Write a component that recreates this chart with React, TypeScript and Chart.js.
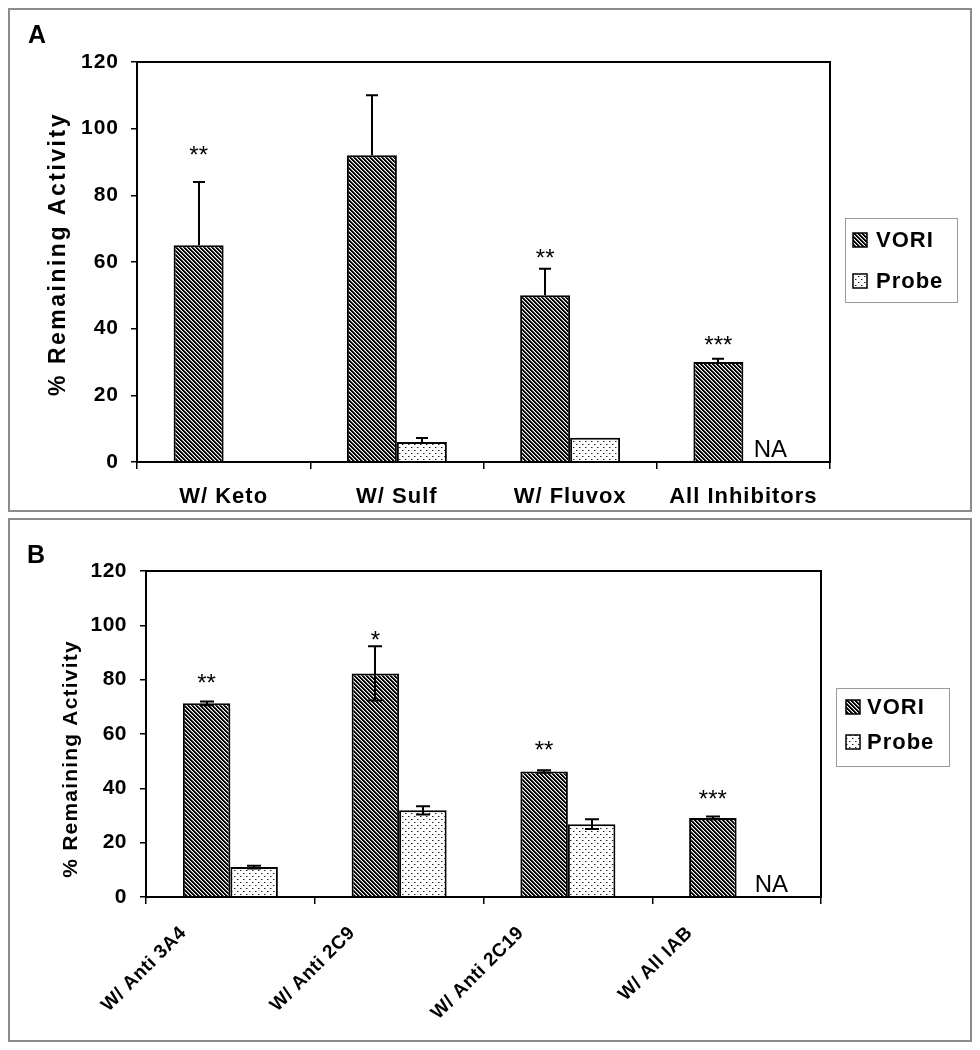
import React, { useEffect, useRef } from "react";
import { Chart, registerables } from "chart.js";

Chart.register(...registerables);

const FONT = 'Arial, "Liberation Sans", Helvetica, sans-serif';

// ---------- shared ----------
const seriesLabels = ["VORI", "Probe"];
const yTickValues = [0, 20, 40, 60, 80, 100, 120];
const yTitle = "% Remaining Activity";

// ---------- Panel A ----------
const categoriesA = ["W/ Keto", "W/ Sulf", "W/ Fluvox", "All Inhibitors"];
const voriA: (number | null)[] = [65, 92, 50, 30];
const voriErrA = [19, 18, 8, 1];
const probeA: (number | null)[] = [0, 6, 7.3, null];
const probeErrA = [0, 1.2, 0, 0];
const sigA = ["**", "", "**", "***"];
const sigValA: (number | null)[] = [94, null, 63, 37];
const naA = [false, false, false, true];

// ---------- Panel B ----------
const categoriesB = ["W/ Anti 3A4", "W/ Anti 2C9", "W/ Anti 2C19", "W/ All IAB"];
const voriB: (number | null)[] = [71.3, 82.3, 46.2, 29.1];
const voriErrB = [0.7, 10, 0.5, 0.5];
const probeB: (number | null)[] = [11, 31.9, 26.8, null];
const probeErrB = [0.5, 1.5, 1.8, 0];
const sigB = ["**", "*", "**", "***"];
const sigValB: (number | null)[] = [81, 96.7, 56.2, 38.2];
const naB = [false, false, false, true];

function makeHatch(): CanvasPattern {
  const c = document.createElement("canvas");
  c.width = 4;
  c.height = 4;
  const g = c.getContext("2d")!;
  g.fillStyle = "#fff";
  g.fillRect(0, 0, 4, 4);
  for (let y = 0; y < 4; y++)
    for (let x = 0; x < 4; x++) {
      const d = (((x - y) % 4) + 4) % 4;
      if (d === 0 || d === 1) {
        g.fillStyle = "#000";
        g.fillRect(x, y, 1, 1);
      } else if (d === 2) {
        g.fillStyle = "#777";
        g.fillRect(x, y, 1, 1);
      }
    }
  return g.createPattern(c, "repeat")!;
}

function makeDots(): CanvasPattern {
  const c = document.createElement("canvas");
  c.width = 6;
  c.height = 6;
  const g = c.getContext("2d")!;
  g.fillStyle = "#fff";
  g.fillRect(0, 0, 6, 6);
  g.fillStyle = "#222";
  g.fillRect(1, 1, 1, 1);
  g.fillRect(4, 4, 1, 1);
  g.fillStyle = "#999";
  g.fillRect(2, 1, 1, 1);
  g.fillRect(5, 4, 1, 1);
  return g.createPattern(c, "repeat")!;
}

type Spec = {
  categories: string[];
  vori: (number | null)[];
  voriErr: number[];
  probe: (number | null)[];
  probeErr: number[];
  sig: string[];
  sigVal: (number | null)[];
  na: boolean[];
  letter: string;
  height: number;
  padTop: number;
  padRight: number;
  yWidth: number;
  xHeight: number;
  catPct: number;
  tickSize: number;
  xSize: number;
  ls: number;
  yPad: number;
  xPad: number;
  rotation: number;
  labelOffset: number;
  errBoth: boolean;
  cap: number;
  titleX: number;
  titleY: number;
  titleSize: number;
  titleLs: number;
  letterX: number;
  letterY: number;
  legend: { x: number; y: number; w: number; h: number; sx: number; rows: number[]; tx: number };
  naDx: number;
};

const specA: Spec = {
  categories: categoriesA,
  vori: voriA,
  voriErr: voriErrA,
  probe: probeA,
  probeErr: probeErrA,
  sig: sigA,
  sigVal: sigValA,
  na: naA,
  letter: "A",
  height: 504,
  padTop: 54,
  padRight: 142,
  yWidth: 129,
  xHeight: 50,
  catPct: 0.577,
  tickSize: 21,
  xSize: 22,
  ls: 1,
  yPad: 12,
  xPad: 15,
  rotation: 0,
  labelOffset: 0,
  errBoth: false,
  cap: 12,
  titleX: 57,
  titleY: 246,
  titleSize: 23,
  titleLs: 2.5,
  letterX: 20,
  letterY: 35,
  legend: { x: 837, y: 210, w: 112, h: 84, sx: 845, rows: [232, 273], tx: 868 },
  naDx: 2,
};

const specB: Spec = {
  categories: categoriesB,
  vori: voriB,
  voriErr: voriErrB,
  probe: probeB,
  probeErr: probeErrB,
  sig: sigB,
  sigVal: sigValB,
  na: naB,
  letter: "B",
  height: 524,
  padTop: 53,
  padRight: 151,
  yWidth: 138,
  xHeight: 145,
  catPct: 0.563,
  tickSize: 21,
  xSize: 19,
  ls: 0.5,
  yPad: 13,
  xPad: 18,
  rotation: 45,
  labelOffset: -47,
  errBoth: true,
  cap: 14,
  titleX: 69,
  titleY: 241,
  titleSize: 21,
  titleLs: 1.2,
  letterX: 19,
  letterY: 45,
  legend: { x: 828, y: 170, w: 113, h: 78, sx: 838, rows: [189, 224], tx: 859 },
  naDx: 11,
};

function buildChart(canvas: HTMLCanvasElement, s: Spec) {
  const hatch = makeHatch();
  const dots = makeDots();
  const patterns = [hatch, dots];

  const decor = {
    id: "decor",
    beforeUpdate(chart: any) {
      chart.ctx.letterSpacing = s.ls + "px";
    },
    beforeDraw(chart: any) {
      chart.ctx.letterSpacing = s.ls + "px";
    },
    afterDatasetsDraw(chart: any) {
      const ctx: CanvasRenderingContext2D = chart.ctx;
      const { left, top, right, bottom } = chart.chartArea;
      const y = chart.scales.y;
      ctx.save();
      ctx.strokeStyle = "#000";
      ctx.lineWidth = 2;
      ctx.strokeRect(left, top, right - left, bottom - top);

      const errs = [s.voriErr, s.probeErr];
      const vals = [s.vori, s.probe];
      for (let di = 0; di < 2; di++) {
        const meta = chart.getDatasetMeta(di);
        meta.data.forEach((el: any, i: number) => {
          const v = vals[di][i];
          const e = errs[di][i];
          if (v == null || !e) return;
          const x = Math.round(el.x);
          const yt = y.getPixelForValue(v + e);
          const yb = s.errBoth ? y.getPixelForValue(v - e) : y.getPixelForValue(v);
          ctx.beginPath();
          ctx.moveTo(x, yt);
          ctx.lineTo(x, yb);
          ctx.moveTo(x - s.cap / 2, yt);
          ctx.lineTo(x + s.cap / 2, yt);
          if (s.errBoth) {
            ctx.moveTo(x - s.cap / 2, yb);
            ctx.lineTo(x + s.cap / 2, yb);
          }
          ctx.stroke();
        });
      }

      const meta0 = chart.getDatasetMeta(0);
      ctx.fillStyle = "#000";
      ctx.letterSpacing = "0px";
      ctx.textAlign = "center";
      ctx.textBaseline = "alphabetic";
      ctx.font = `24px ${FONT}`;
      s.sig.forEach((t, i) => {
        const sv = s.sigVal[i];
        if (!t || sv == null) return;
        const el = meta0.data[i];
        const yc = y.getPixelForValue(sv);
        ctx.fillText(t, el.x, yc + 0.58 * 24);
      });
      s.na.forEach((flag, i) => {
        if (!flag) return;
        const el = meta0.data[i];
        const px = el.x + el.width + s.naDx;
        ctx.fillText("NA", px, bottom - 5);
      });
      ctx.restore();
    },
    afterDraw(chart: any) {
      const ctx: CanvasRenderingContext2D = chart.ctx;
      ctx.save();
      ctx.fillStyle = "#000";
      // panel letter
      ctx.letterSpacing = "0px";
      ctx.font = `bold 25px ${FONT}`;
      ctx.textAlign = "left";
      ctx.textBaseline = "alphabetic";
      ctx.fillText(s.letter, s.letterX, s.letterY);
      // y title
      ctx.save();
      ctx.translate(s.titleX, s.titleY);
      ctx.rotate(-Math.PI / 2);
      ctx.letterSpacing = s.titleLs + "px";
      ctx.font = `bold ${s.titleSize}px ${FONT}`;
      ctx.textAlign = "center";
      ctx.fillText(yTitle, 0, 0);
      ctx.restore();
      // legend
      const L = s.legend;
      ctx.strokeStyle = "#9a9a9a";
      ctx.lineWidth = 1;
      ctx.strokeRect(L.x + 0.5, L.y + 0.5, L.w, L.h);
      ctx.letterSpacing = "1px";
      ctx.font = `bold 22px ${FONT}`;
      ctx.textBaseline = "middle";
      ctx.textAlign = "left";
      L.rows.forEach((ry, k) => {
        ctx.fillStyle = patterns[k];
        ctx.fillRect(L.sx, ry - 7, 14, 14);
        ctx.strokeStyle = "#000";
        ctx.lineWidth = 1.5;
        ctx.strokeRect(L.sx, ry - 7, 14, 14);
        ctx.fillStyle = "#000";
        ctx.fillText(seriesLabels[k], L.tx, ry + 1);
      });
      ctx.restore();
    },
  };

  return new Chart(canvas, {
    type: "bar",
    data: {
      labels: s.categories,
      datasets: [
        {
          label: seriesLabels[0],
          data: s.vori,
          backgroundColor: hatch,
          borderColor: "#000",
          borderWidth: 2,
          barPercentage: 1,
          categoryPercentage: s.catPct,
        },
        {
          label: seriesLabels[1],
          data: s.probe,
          backgroundColor: dots,
          borderColor: "#000",
          borderWidth: 2,
          barPercentage: 1,
          categoryPercentage: s.catPct,
        },
      ],
    } as any,
    options: {
      responsive: false,
      maintainAspectRatio: false,
      animation: false,
      devicePixelRatio: 1,
      layout: { padding: { top: s.padTop, right: s.padRight, left: 0, bottom: 0 } },
      plugins: { legend: { display: false }, tooltip: { enabled: false } },
      scales: {
        x: {
          type: "category",
          offset: true,
          grid: { offset: true, drawOnChartArea: false, drawTicks: true, tickLength: 7, color: "#000", lineWidth: 1.5 },
          border: { display: true, color: "#000", width: 2 },
          ticks: {
            autoSkip: false,
            color: "#000",
            font: { family: FONT, size: s.xSize, weight: "bold" },
            padding: s.xPad,
            maxRotation: s.rotation,
            minRotation: s.rotation,
            labelOffset: s.labelOffset,
          },
          afterFit: (sc: any) => {
            sc.height = s.xHeight;
          },
        },
        y: {
          min: 0,
          max: 120,
          afterBuildTicks: (sc: any) => {
            sc.ticks = yTickValues.map((v) => ({ value: v }));
          },
          grid: { drawOnChartArea: false, drawTicks: true, tickLength: 6, color: "#000", lineWidth: 1.5 },
          border: { display: true, color: "#000", width: 2 },
          ticks: {
            color: "#000",
            font: { family: FONT, size: s.tickSize, weight: "bold" },
            padding: s.yPad,
          },
          afterFit: (sc: any) => {
            sc.width = s.yWidth;
          },
        },
      },
    } as any,
    plugins: [decor as any],
  });
}

function Panel({ spec, top }: { spec: Spec; top: number }) {
  const ref = useRef<HTMLCanvasElement>(null);
  useEffect(() => {
    const chart = buildChart(ref.current!, spec);
    return () => chart.destroy();
  }, [spec]);
  return (
    <div
      style={{
        position: "absolute",
        left: 0,
        top,
        width: 964,
        height: spec.height,
        boxSizing: "border-box",
        border: "2px solid #8c8c8c",
        background: "#fff",
      }}
    >
      <canvas
        ref={ref}
        width={964}
        height={spec.height}
        style={{ position: "absolute", left: -2, top: -2, width: 964, height: spec.height }}
      />
    </div>
  );
}

export default function App() {
  return (
    <div style={{ position: "relative", width: 964, height: 1034 }}>
      <Panel spec={specA} top={0} />
      <Panel spec={specB} top={510} />
    </div>
  );
}
